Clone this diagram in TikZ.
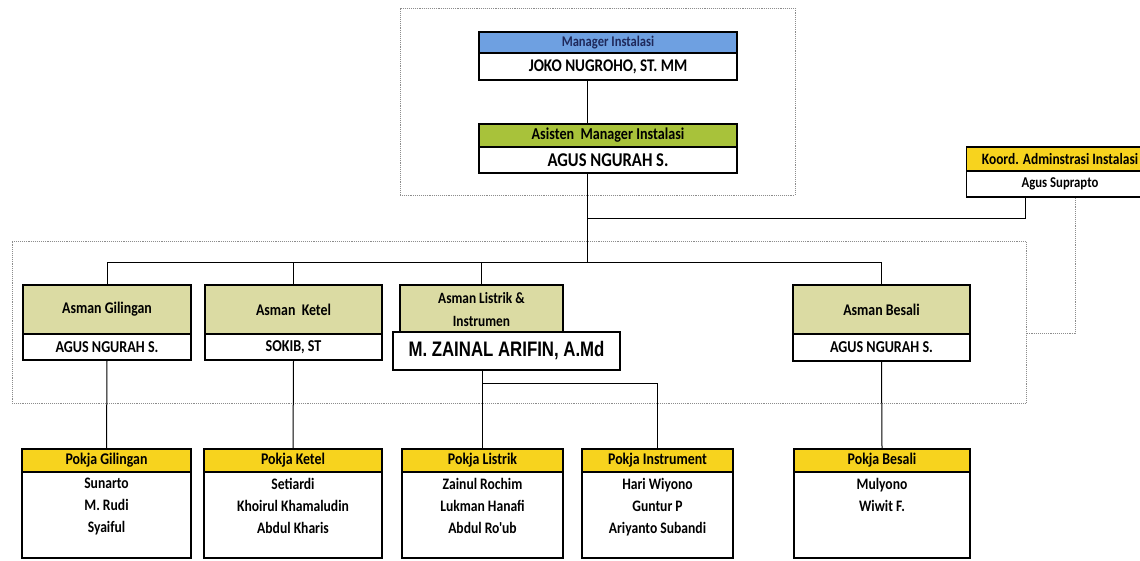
\documentclass[tikz,border=0pt]{standalone}
\usepackage{fontspec}
\newfontfamily\crl{Carlito}[FakeStretch=0.85]
\newfontfamily\arl{Liberation Sans}[FakeStretch=0.8]
\usetikzlibrary{calc}
\definecolor{mgrblue}{RGB}{110,160,225}
\definecolor{asgreen}{RGB}{168,194,58}
\definecolor{khaki}{RGB}{219,219,163}
\definecolor{pyellow}{RGB}{247,211,30}
\definecolor{navy}{RGB}{30,40,90}
\tikzset{
  box/.style={draw=black, line width=1.9pt, inner sep=0pt, align=center, text=black},
  conn/.style={draw=black, line width=1pt},
  grp/.style={draw=black!45, densely dotted, line width=0.9pt},
  fs/.style={font=\crl\bfseries\fontsize{#1}{#1}\selectfont},
  ahdr/.style={box, fill=khaki, minimum height=49, fs=16.3},
  aname/.style={box, fill=white, minimum height=26, fs=16.6},
  phdr/.style={box, fill=pyellow, minimum height=23, fs=16.3},
  pbody/.style={box, fill=white, minimum height=86},
  ptext/.style={anchor=north, align=center, inner sep=0pt, font=\crl\bfseries\fontsize{16}{22}\selectfont}
}
\begin{document}
\begin{tikzpicture}[x=1pt,y=-1pt]
\useasboundingbox (0,0) rectangle (1140,560);
\clip (0,0) rectangle (1140,560);
\fill[white] (0,0) rectangle (1140,560);
% group frames
\node[grp, minimum width=395, minimum height=187] (topgrp) at (597.5,101.5) {};
\node[grp, minimum width=1014, minimum height=162] (staff) at (519,322) {};
% top management
\node[box, fill=mgrblue, minimum width=258, minimum height=21, fs=14.8, text=navy] (mgH) at (608,42.5) {Manager Instalasi};
\node[box, fill=white, minimum width=258, minimum height=27, fs=17.8] (mgB) at (608,66.5) {JOKO NUGROHO, ST. MM};
\node[box, fill=asgreen, minimum width=258, minimum height=23, fs=16.6] (asH) at (608,135.5) {Asisten\ \ Manager Instalasi};
\node[box, fill=white, minimum width=258, minimum height=26, fs=19.5] (asB) at (608,160) {AGUS NGURAH S.};
% koordinator
\node[box, fill=pyellow, minimum width=187, minimum height=24, fs=15.8] (koH) at (1060,159) {Koord. Adminstrasi Instalasi};
\node[box, fill=white, minimum width=187, minimum height=26, fs=15] (koB) at (1060,184) {Agus Suprapto};
% asman
\node[ahdr, minimum width=168] (gH) at (107,309.5) {Asman Gilingan};
\node[aname, minimum width=168] (gB) at (107,347) {AGUS NGURAH S.};
\node[ahdr, minimum width=177] (kH) at (293.5,309.5) {Asman\ \ Ketel};
\node[aname, minimum width=177] (kB) at (293.5,347) {SOKIB, ST};
\node[box, fill=khaki, minimum width=163, minimum height=50, font=\crl\bfseries\fontsize{15.7}{23}\selectfont] (lsH) at (481.5,310) {Asman Listrik \&\\Instrumen};
\node[box, fill=white, line width=1.2pt, minimum width=227, minimum height=38, font=\arl\bfseries\fontsize{21}{21}\selectfont] (lsB) at (506.5,351) {M. ZAINAL ARIFIN, A.Md};
\node[ahdr, minimum width=177] (bsH) at (881.5,309.5) {Asman Besali};
\node[aname, minimum width=177, minimum height=27] (bsB) at (881.5,347.5) {AGUS NGURAH S.};
% pokja
\node[phdr, minimum width=169] (pgH) at (106.5,460.5) {Pokja Gilingan};
\node[pbody, minimum width=169] (pgB) at (106.5,515) {};
\node[ptext] (pgT) at ([yshift=-7pt]pgB.north) {Sunarto\\M. Rudi\\Syaiful};
\node[phdr, minimum width=178] (pkH) at (293,460.5) {Pokja Ketel};
\node[pbody, minimum width=178] (pkB) at (293,515) {};
\node[ptext] (pkT) at ([yshift=-7pt]pkB.north) {Setiardi\\Khoirul Khamaludin\\Abdul Kharis};
\node[phdr, minimum width=161] (plH) at (482.5,460.5) {Pokja Listrik};
\node[pbody, minimum width=161] (plB) at (482.5,515) {};
\node[ptext] (plT) at ([yshift=-7pt]plB.north) {Zainul Rochim\\Lukman Hanafi\\Abdul Ro'ub};
\node[phdr, minimum width=151] (piH) at (657.5,460.5) {Pokja Instrument};
\node[pbody, minimum width=151] (piB) at (657.5,515) {};
\node[ptext] (piT) at ([yshift=-7pt]piB.north) {Hari Wiyono\\Guntur P\\Ariyanto Subandi};
\node[phdr, minimum width=176] (pbH) at (882,460.5) {Pokja Besali};
\node[pbody, minimum width=176] (pbB) at (882,515) {};
\node[ptext] (pbT) at ([yshift=-7pt]pbB.north) {Mulyono\\Wiwit F.};
% connectors
\coordinate (trunk) at (587,218);
\coordinate (bar) at (587,262);
\coordinate (kj) at (1025,218);
\coordinate (kd) at (1075,333);
\coordinate (lj) at (482.5,383);
\draw[conn] (mgB.south -| trunk) -- (asH.north -| trunk);
\draw[conn] (asB.south -| trunk) -- (bar);
\draw[conn] (trunk) -- (kj) -- (kj |- koB.south);
\draw[grp] (kd |- koB.south) -- (kd) -- (kd -| staff.east);
\draw[conn] (gH.north |- bar) -- (bsH.north |- bar);
\draw[conn] (gH.north |- bar) -- (gH.north);
\draw[conn] (kH.north |- bar) -- (kH.north);
\draw[conn] (lsH.north |- bar) -- (lsH.north);
\draw[conn] (bsH.north |- bar) -- (bsH.north);
\draw[conn] (gB.south) -- (pgH.north);
\draw[conn] (kB.south) -- (pkH.north);
\draw[conn] (bsB.south) -- (pbH.north);
\draw[conn] (plH.north |- lsB.south) -- (plH.north);
\draw[conn] (lj) -- (lj -| piH.north) -- (piH.north);
\end{tikzpicture}
\end{document}
